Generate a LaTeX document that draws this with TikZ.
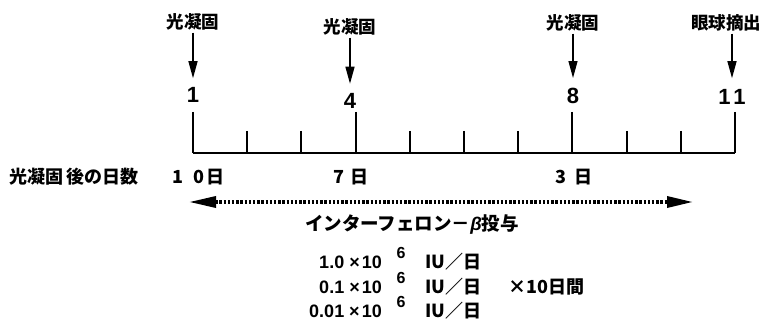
\documentclass[tikz,border=0pt]{standalone}
\usepackage{fontspec}
\setmainfont{Liberation Sans}
\newfontfamily\jp{Noto Sans CJK JP}
\usetikzlibrary{arrows.meta}

\begin{document}
\begin{tikzpicture}[x=1pt,y=-1pt,
  jlbl/.style={font=\jp\bfseries\fontsize{17.5}{19}\selectfont, inner sep=0pt},
  jtxt/.style={font=\jp\bfseries\fontsize{18}{20}\selectfont, inner sep=0pt},
  num/.style={font=\bfseries\fontsize{22}{24}\selectfont, inner sep=0pt},
  dose/.style={font=\bfseries\fontsize{18}{20}\selectfont, inner sep=0pt},
  sup/.style={font=\bfseries\fontsize{16}{18}\selectfont, inner sep=0pt},
  down/.style={line width=1.3pt, -{Triangle[length=17pt,width=9pt]}, shorten <=2pt},
  axisline/.style={line width=2pt},
  period/.style={line width=3.4pt, dash pattern=on 2.4pt off 1.8pt,
    {Triangle[length=27pt,width=11pt]}-{Triangle[length=26pt,width=11pt]}}]
\useasboundingbox (0,0) rectangle (764,321);

% event labels
\node[jlbl] (L1) at (193,22) {光凝固};
\node[jlbl] (L4) at (350,27) {光凝固};
\node[jlbl] (L8) at (573,23) {光凝固};
\node[jlbl] (L11) at (726,23) {眼球摘出};

% day numbers
\node[num] (n1) at (193,95) {1};
\node[num] (n4) at (350,100.5) {4};
\node[num] (n8) at (573,96) {8};
\node[num] (n11) at (732,97) {1\kern3pt1};

\draw[down, shorten >=9pt] (L1) -- (n1);
\draw[down, shorten >=9pt] (L4) -- (n4);
\draw[down, shorten >=10pt] (L8) -- (n8);
\draw[down, shorten >=11pt] (L11.south -| n11) -- (n11);

% time axis with daily ticks
\draw[axisline] (193,153) -- (735,153);
\foreach \i in {1,...,11} {
  \pgfmathsetmacro{\xx}{193+(\i-1)*54.2}
  \ifnum\i=1 \def\top{112}\else\ifnum\i=4 \def\top{112}\else\ifnum\i=8 \def\top{112}\else\ifnum\i=11 \def\top{112}\else\def\top{131}\fi\fi\fi\fi
  \draw[axisline] (\xx,\top) -- (\xx,153);
}

% days after photocoagulation
\node[jtxt, anchor=west] (dl) at (9,177) {光凝固\kern3pt 後の日数};
\node[jtxt, anchor=west] (d10) at (172,177) {1\kern10pt0\kern2pt日};
\node[jtxt, anchor=west] (d7) at (333,177) {7\kern6pt日};
\node[jtxt, anchor=west] (d3) at (555,177) {3\kern8pt日};

% interferon administration period
\coordinate (pa) at (189,202);
\coordinate (pb) at (693,202);
\draw[period] (pa) -- (pb);
\node[jtxt, font=\jp\bfseries\fontsize{18.5}{20}\selectfont] (ifn) at (412,225) {インターフェロン－{\rmfamily\bfseries\itshape β}投与};

% doses
\node[dose, anchor=east] (r1) at (382,262) {1.0\kern5pt×\kern2pt10};
\node[dose, anchor=east] (r2) at (382,287) {0.1\kern5pt×\kern2pt10};
\node[dose, anchor=east] (r3) at (382,311) {0.01\kern5pt×\kern2pt10};
\node[sup] (s1) at (401,253) {6};
\node[sup] (s2) at (401,278) {6};
\node[sup] (s3) at (401,302) {6};
\node[jtxt, anchor=west] (u1) at (425,262) {IU／日};
\node[jtxt, anchor=west] (u2) at (425,287) {IU／日};
\node[jtxt, anchor=west] (u3) at (425,311) {IU／日};
\node[jtxt, anchor=west] (dur) at (508,287) {×10日間};
\end{tikzpicture}
\end{document}
